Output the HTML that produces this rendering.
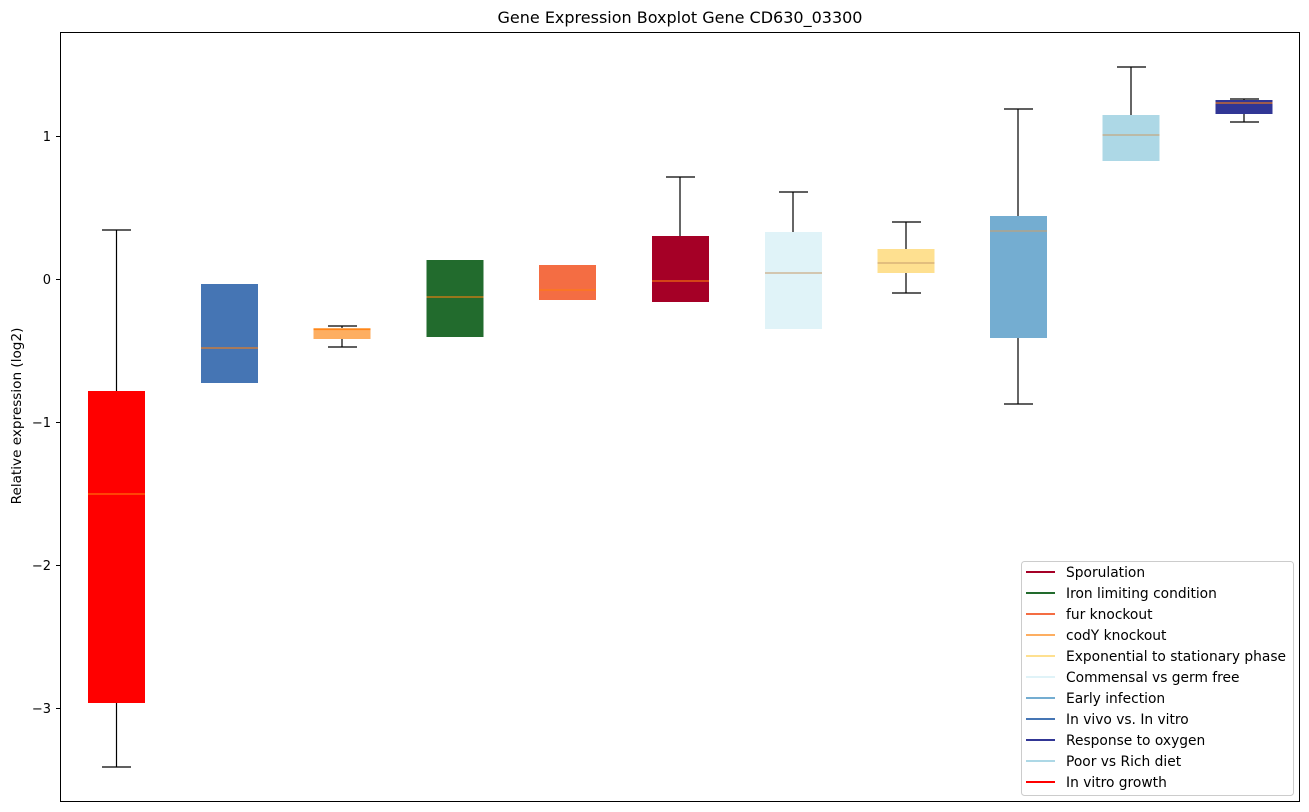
<!DOCTYPE html>
<html><head><style>body{margin:0;background:#fff}svg{display:block;font-family:"DejaVu Sans","Liberation Sans",sans-serif}</style></head>
<body>
<svg width="1309" height="812" viewBox="0 0 1309 812" xmlns="http://www.w3.org/2000/svg">
<rect width="1309" height="812" fill="#fff"/>
<text x="680" y="23" font-size="16" text-anchor="middle">Gene Expression Boxplot Gene CD630_03300</text>
<g stroke="#000" stroke-width="1.2">
<line x1="116.5" y1="230" x2="116.5" y2="391"/><line x1="116.5" y1="703" x2="116.5" y2="767"/>
<line x1="102" y1="230" x2="131" y2="230"/><line x1="102" y1="767" x2="131" y2="767"/>
<line x1="342" y1="326" x2="342" y2="328"/><line x1="342" y1="339" x2="342" y2="347"/>
<line x1="328" y1="326" x2="357" y2="326"/><line x1="328" y1="347" x2="357" y2="347"/>
<line x1="680" y1="177" x2="680" y2="236"/><line x1="666" y1="177" x2="695" y2="177"/>
<line x1="793" y1="192" x2="793" y2="232"/><line x1="779" y1="192" x2="808" y2="192"/>
<line x1="906" y1="222" x2="906" y2="249"/><line x1="906" y1="273" x2="906" y2="293"/>
<line x1="892" y1="222" x2="921" y2="222"/><line x1="892" y1="293" x2="921" y2="293"/>
<line x1="1018" y1="109" x2="1018" y2="216"/><line x1="1018" y1="338" x2="1018" y2="404"/>
<line x1="1004" y1="109" x2="1033" y2="109"/><line x1="1004" y1="404" x2="1033" y2="404"/>
<line x1="1131" y1="67" x2="1131" y2="115"/><line x1="1117" y1="67" x2="1146" y2="67"/>
<line x1="1244" y1="99" x2="1244" y2="100"/><line x1="1244" y1="114" x2="1244" y2="122"/>
<line x1="1230" y1="99" x2="1259" y2="99"/><line x1="1230" y1="122" x2="1259" y2="122"/>
</g>
<g>
<rect x="88" y="391" width="57" height="312" fill="#ff0000"/>
<rect x="201" y="284" width="57" height="99" fill="#4575b4"/>
<rect x="313.5" y="328" width="57" height="11" fill="#fdae61"/>
<rect x="426.5" y="260" width="57" height="77" fill="#226b2d"/>
<rect x="539" y="265" width="57" height="35" fill="#f46d43"/>
<rect x="652" y="236" width="57" height="66" fill="#a50026"/>
<rect x="765" y="232" width="57" height="97" fill="#e0f3f8"/>
<rect x="877.5" y="249" width="57" height="24" fill="#fee090"/>
<rect x="990" y="216" width="57" height="122" fill="#74add1"/>
<rect x="1102.5" y="115" width="57" height="46" fill="#add8e6"/>
<rect x="1215.5" y="100" width="57" height="14" fill="#313695"/>
</g>
<g stroke="#ff7f0e" stroke-width="1.2" opacity="0.85">
<line x1="88" y1="494" x2="145" y2="494"/>
<line x1="201" y1="348" x2="258" y2="348"/>
<line x1="313.5" y1="329.5" x2="370.5" y2="329.5"/>
<line x1="426.5" y1="297" x2="483.5" y2="297"/>
<line x1="539" y1="290" x2="596" y2="290"/>
<line x1="652" y1="281" x2="709" y2="281"/>
<line x1="765" y1="273" x2="822" y2="273" stroke="#c8a070"/>
<line x1="877.5" y1="263" x2="934.5" y2="263" stroke="#c8a070"/>
<line x1="990" y1="231" x2="1047" y2="231" stroke="#c8a070"/>
<line x1="1102.5" y1="135" x2="1159.5" y2="135" stroke="#c8a070"/>
<line x1="1215.5" y1="103" x2="1272.5" y2="103"/>
</g>
<rect x="60.5" y="32.5" width="1239" height="769" fill="none" stroke="#000" stroke-width="1"/>
<g stroke="#000" stroke-width="1">
<line x1="56" y1="136.5" x2="60.5" y2="136.5"/>
<line x1="56" y1="279.5" x2="60.5" y2="279.5"/>
<line x1="56" y1="422.5" x2="60.5" y2="422.5"/>
<line x1="56" y1="565.5" x2="60.5" y2="565.5"/>
<line x1="56" y1="708.5" x2="60.5" y2="708.5"/>
</g>
<g font-size="13" text-anchor="end">
<text x="51" y="141">1</text>
<text x="51" y="284">0</text>
<text x="51" y="427">−1</text>
<text x="51" y="570">−2</text>
<text x="51" y="713">−3</text>
</g>
<text transform="translate(21,416) rotate(-90)" font-size="13.6" text-anchor="middle">Relative expression (log2)</text>
<rect x="1021.5" y="561.5" width="272" height="234" rx="3" fill="#fff" fill-opacity="0.8" stroke="#ccc"/>
<g stroke-width="2">
<line x1="1026" y1="572" x2="1055" y2="572" stroke="#a50026"/>
<line x1="1026" y1="593" x2="1055" y2="593" stroke="#226b2d"/>
<line x1="1026" y1="614" x2="1055" y2="614" stroke="#f46d43"/>
<line x1="1026" y1="635" x2="1055" y2="635" stroke="#fdae61"/>
<line x1="1026" y1="656" x2="1055" y2="656" stroke="#fee090"/>
<line x1="1026" y1="677" x2="1055" y2="677" stroke="#e0f3f8"/>
<line x1="1026" y1="698" x2="1055" y2="698" stroke="#74add1"/>
<line x1="1026" y1="719" x2="1055" y2="719" stroke="#4575b4"/>
<line x1="1026" y1="740" x2="1055" y2="740" stroke="#313695"/>
<line x1="1026" y1="761" x2="1055" y2="761" stroke="#add8e6"/>
<line x1="1026" y1="782" x2="1055" y2="782" stroke="#ff0000"/>
</g>
<g font-size="13.8">
<text x="1066" y="577">Sporulation</text>
<text x="1066" y="598">Iron limiting condition</text>
<text x="1066" y="619">fur knockout</text>
<text x="1066" y="640">codY knockout</text>
<text x="1066" y="661">Exponential to stationary phase</text>
<text x="1066" y="682">Commensal vs germ free</text>
<text x="1066" y="703">Early infection</text>
<text x="1066" y="724">In vivo vs. In vitro</text>
<text x="1066" y="745">Response to oxygen</text>
<text x="1066" y="766">Poor vs Rich diet</text>
<text x="1066" y="787">In vitro growth</text>
</g>
</svg>
</body></html>
